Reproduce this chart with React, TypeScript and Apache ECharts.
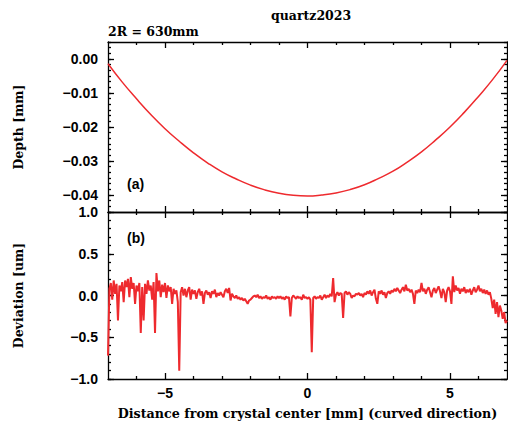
import React, { useEffect, useRef } from "react";
import * as echarts from "echarts";

const depthX = [-7, -6.5, -6, -5.5, -5, -4.5, -4, -3.5, -3, -2.5, -2, -1.5, -1, -0.5, 0, 0.5, 1, 1.5, 2, 2.5, 3, 3.5, 4, 4.5, 5, 5.5, 6, 6.5, 7];
const depthY = [-0.0014, -0.0068, -0.0117, -0.0163, -0.0205, -0.0242, -0.0276, -0.0306, -0.0332, -0.0353, -0.0371, -0.0385, -0.0395, -0.0401, -0.0403, -0.0400, -0.0394, -0.0384, -0.0370, -0.0351, -0.0330, -0.0303, -0.0273, -0.0238, -0.0200, -0.0157, -0.0110, -0.0060, -0.0004];

const devStart = -7;
const devStep = 0.05;
const deviation = [
  -0.72, 0.08, 0.15, -0.05, 0.18, 0.02, 0.14, -0.30, 0.12, 0.05, 0.16, -0.08, 0.18, 0.10, 0.20, -0.02, 0.22, 0.08, 0.15, -0.10,
  0.12, 0.05, 0.15, -0.45, 0.10, -0.30, 0.14, 0.02, 0.18, 0.06, 0.12, -0.05, 0.16, -0.45, 0.27, 0.05, 0.18, -0.02, 0.13, 0.04,
  0.15, -0.03, 0.12, 0.05, 0.10, -0.10, 0.08, 0.02, 0.06, -0.08, -0.90, 0.04, 0.10, 0.00, 0.08, -0.02, 0.06, 0.10, -0.05, 0.07,
  0.02, 0.06, -0.04, 0.04, 0.08, 0.00, 0.05, -0.10, 0.03, 0.06, 0.01, 0.04, -0.03, 0.05, 0.02, 0.07, -0.02, 0.03, 0.00, 0.04,
  0.01, -0.02, 0.05, 0.08, 0.03, 0.09, -0.06, 0.02, -0.01, -0.03, 0.00, -0.04, -0.02, -0.05, -0.03, -0.06, -0.04, -0.07, -0.10, -0.06,
  -0.05, -0.03, -0.01, 0.00, -0.02, 0.01, -0.03, -0.01, -0.04, -0.02, -0.03, 0.00, -0.04, -0.02, -0.05, -0.01, -0.03, -0.02, -0.04, -0.01,
  -0.03, -0.01, -0.04, -0.02, -0.05, -0.01, -0.03, -0.02, -0.25, -0.03, 0.00, -0.02, -0.04, -0.01, -0.03, -0.02, -0.05, 0.01, -0.03, -0.02,
  -0.04, -0.02, -0.05, -0.68, -0.03, -0.01, -0.04, -0.02, -0.03, 0.00, -0.05, -0.02, 0.01, -0.03, 0.00, -0.02, 0.02, -0.01, 0.21, -0.08,
  0.01, 0.04, 0.00, 0.03, 0.02, -0.27, 0.03, 0.05, 0.01, 0.04, 0.02, -0.03, 0.00, -0.01, 0.02, 0.01, 0.03, 0.00, 0.02, -0.02,
  0.03, 0.01, 0.05, 0.02, 0.06, 0.00, 0.04, 0.07, -0.04, -0.10, 0.05, 0.02, 0.06, 0.01, 0.04, -0.03, 0.03, 0.05, 0.02, 0.06,
  0.04, 0.08, 0.05, 0.09, 0.06, 0.03, 0.07, 0.10, 0.05, 0.13, 0.06, 0.08, 0.04, 0.07, 0.02, -0.10, 0.06, 0.03, 0.07, 0.04,
  0.15, 0.05, 0.08, 0.02, 0.07, 0.10, 0.04, -0.02, 0.06, 0.09, 0.03, 0.07, 0.11, 0.05, -0.03, 0.08, 0.04, -0.08, 0.06, 0.10,
  0.05, -0.10, 0.23, 0.04, 0.12, 0.06, 0.09, 0.02, 0.08, 0.05, 0.10, 0.03, 0.07, 0.04, 0.08, 0.01, 0.06, 0.10, 0.04, 0.07,
  0.12, 0.05, 0.08, 0.03, 0.07, 0.02, 0.06, 0.01, 0.04, -0.04, -0.15, -0.05, -0.22, -0.08, -0.26, -0.12, -0.18, -0.28, -0.20, -0.33, -0.30,
];

const xMajor = [-5, 0, 5];
const xMinor = [-6, -4, -3, -2, -1, 1, 2, 3, 4, 6];
const depthMajor = [0, -0.01, -0.02, -0.03, -0.04];
const devMajor = [-1, -0.5, 0, 0.5, 1];

const RED = "#ee2a2e";
const TICK_FONT = "'Liberation Sans', Arial, sans-serif";
const SERIF = "'DejaVu Serif', serif";

const minus = (s: string) => s.replace("-", "\u2212");

function minorRange(lo: number, hi: number, step: number) {
  const out: number[] = [];
  const n = Math.round((hi - lo) / step);
  for (let i = 0; i <= n; i++) out.push(+(lo + i * step).toFixed(6));
  return out;
}

export default function App() {
  const ref = useRef<HTMLDivElement>(null);
  useEffect(() => {
    if (!ref.current) return;
    const chart = echarts.init(ref.current, null, { renderer: "svg" });

    const lineStyle = { color: "#000", width: 1.3 };
    const xAx = (grid: number, pos: "top" | "bottom", major: boolean, labels: boolean, extra: any = {}) => ({
      type: "value",
      gridIndex: grid,
      position: pos,
      min: -7,
      max: 7,
      axisLine: { show: major, onZero: false, lineStyle },
      splitLine: { show: false },
      axisTick: {
        show: true,
        inside: true,
        length: major ? 6 : 3,
        lineStyle,
        customValues: major ? xMajor : xMinor,
      },
      axisLabel: {
        show: labels,
        customValues: xMajor,
        margin: 7,
        color: "#000",
        fontFamily: TICK_FONT,
        fontWeight: "bold",
        fontSize: 14,
        formatter: (v: number) => minus(String(v)),
      },
      ...extra,
    });
    const yAx = (grid: number, pos: "left" | "right", min: number, max: number, majors: number[], minors: number[], major: boolean, labels: boolean, digits: number, extra: any = {}) => ({
      type: "value",
      gridIndex: grid,
      position: pos,
      min,
      max,
      axisLine: { show: major, onZero: false, lineStyle },
      splitLine: { show: false },
      axisTick: {
        show: true,
        inside: true,
        length: major ? 6 : 3,
        lineStyle,
        customValues: major ? majors : minors,
      },
      axisLabel: {
        show: labels,
        customValues: majors,
        margin: 10,
        color: "#000",
        fontFamily: TICK_FONT,
        fontWeight: "bold",
        fontSize: 14,
        formatter: (v: number) => minus(v.toFixed(digits)),
      },
      ...extra,
    });

    const depthMinor = minorRange(-0.045, 0.005, 0.01 / 6);
    const devMinor = minorRange(-1, 1, 0.1);

    const nameStyle = { color: "#000", fontFamily: SERIF, fontWeight: "bold", fontSize: 12.5 };

    const option: any = {
      animation: false,
      grid: [
        { left: 108, top: 42, width: 399, height: 170 },
        { left: 108, top: 212, width: 399, height: 170 },
      ],
      xAxis: [
        xAx(0, "bottom", true, false),
        xAx(0, "bottom", false, false),
        xAx(0, "top", true, false),
        xAx(0, "top", false, false),
        xAx(1, "bottom", true, true, {
          name: "Distance from crystal center [mm] (curved direction)",
          nameLocation: "middle",
          nameGap: 28,
          nameTextStyle: { ...nameStyle, fontSize: 12.7 },
        }),
        xAx(1, "bottom", false, false),
        xAx(1, "top", true, false),
        xAx(1, "top", false, false),
      ],
      yAxis: [
        yAx(0, "left", -0.045, 0.005, depthMajor, depthMinor, true, true, 2, {
          name: "Depth [mm]",
          nameLocation: "middle",
          nameGap: 83,
          nameRotate: 90,
          nameTextStyle: nameStyle,
        }),
        yAx(0, "left", -0.045, 0.005, depthMajor, depthMinor, false, false, 2),
        yAx(0, "right", -0.045, 0.005, depthMajor, depthMinor, true, false, 2),
        yAx(0, "right", -0.045, 0.005, depthMajor, depthMinor, false, false, 2),
        yAx(1, "left", -1, 1, devMajor, devMinor, true, true, 1, {
          name: "Deviation [um]",
          nameLocation: "middle",
          nameGap: 83,
          nameRotate: 90,
          nameTextStyle: nameStyle,
        }),
        yAx(1, "left", -1, 1, devMajor, devMinor, false, false, 1),
        yAx(1, "right", -1, 1, devMajor, devMinor, true, false, 1),
        yAx(1, "right", -1, 1, devMajor, devMinor, false, false, 1),
      ],
      series: [
        {
          type: "line",
          xAxisIndex: 0,
          yAxisIndex: 0,
          data: depthX.map((x, i) => [x, depthY[i]]),
          smooth: true,
          showSymbol: false,
          lineStyle: { color: RED, width: 1.5 },
        },
        {
          type: "line",
          xAxisIndex: 4,
          yAxisIndex: 4,
          data: deviation.map((v, i) => [+(devStart + i * devStep).toFixed(2), v]),
          showSymbol: false,
          lineStyle: { color: RED, width: 2 },
        },
      ],
      graphic: [
        { type: "text", left: 308 - 37, top: 9, style: { text: "quartz2023", fill: "#000", font: `bold 12.5px ${SERIF}` } },
        { type: "text", left: 108, top: 25, style: { text: "2R = 630mm", fill: "#000", font: `bold 12.5px ${SERIF}` } },
        { type: "text", left: 127, top: 177, style: { text: "(a)", fill: "#000", font: `bold 14px ${TICK_FONT}` } },
        { type: "text", left: 127, top: 231, style: { text: "(b)", fill: "#000", font: `bold 14px ${TICK_FONT}` } },
      ],
    };
    chart.setOption(option);
    return () => chart.dispose();
  }, []);
  return <div ref={ref} style={{ position: "absolute", left: 0, top: 0, width: 508, height: 421 }} />;
}
